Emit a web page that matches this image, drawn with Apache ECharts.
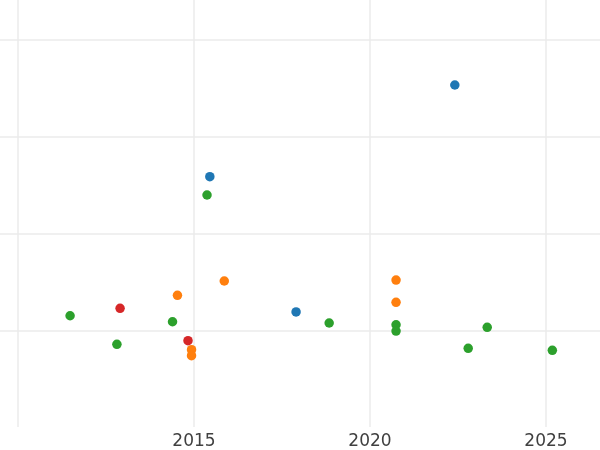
<!DOCTYPE html>
<html>
<head>
<meta charset="utf-8">
<script src="https://cdn.jsdelivr.net/npm/echarts@6/dist/echarts.min.js"></script>
<style>html,body{margin:0;padding:0;background:#fff}#c{width:600px;height:450px}</style>
</head>
<body>
<div id="c"></div>
<script>
const xTicks = [2005, 2010, 2015, 2020, 2025, 2030];
const xLabels = ['2015', '2020', '2025'];
const blue = [[2022.41, 35.35], [2015.45, 25.87], [2017.90, 11.89]];
const green = [[2015.37, 23.98], [2011.48, 11.50], [2012.81, 8.55], [2014.39, 10.88], [2018.84, 10.75],
  [2020.74, 10.57], [2020.74, 9.92], [2023.33, 10.30], [2022.79, 8.13], [2025.18, 7.93]];
const orange = [[2015.86, 15.09], [2014.53, 13.61], [2020.74, 15.19], [2020.74, 12.89], [2014.93, 7.99], [2014.93, 7.37]];
const red = [[2012.90, 12.27], [2014.83, 8.92]];

const chart = echarts.init(document.getElementById('c'), null, {renderer: 'canvas'});
const grid = '#ebebeb';
function s(name, data, color) {
  return {name, type: 'scatter', data, symbolSize: 9.5, itemStyle: {color, opacity: 1}, emphasis: {disabled: true}};
}
chart.setOption({
  animation: false,
  backgroundColor: '#fff',
  grid: {left: -158, right: -122, top: -56.75, bottom: 23, containLabel: false, outerBoundsMode: 'none'},
  xAxis: {
    type: 'value', min: xTicks[0], max: xTicks[xTicks.length - 1], interval: 5,
    axisLine: {show: false}, axisTick: {show: false},
    axisLabel: {color: '#404040', fontSize: 17, fontFamily: 'DejaVu Sans', margin: 6,
      formatter: v => xLabels.includes(String(v)) ? String(v) : ''},
    splitLine: {show: true, lineStyle: {color: grid, width: 1.5}}
  },
  yAxis: {
    type: 'value', min: 0, max: 50, interval: 10,
    axisLine: {show: false}, axisTick: {show: false}, axisLabel: {show: false},
    splitLine: {show: true, showMinLine: false, lineStyle: {color: grid, width: 1.5}}
  },
  series: [
    s('blue', blue, '#1f77b4'),
    s('green', green, '#2ca02c'),
    s('orange', orange, '#ff7f0e'),
    s('red', red, '#d62728')
  ]
});
</script>
</body>
</html>
